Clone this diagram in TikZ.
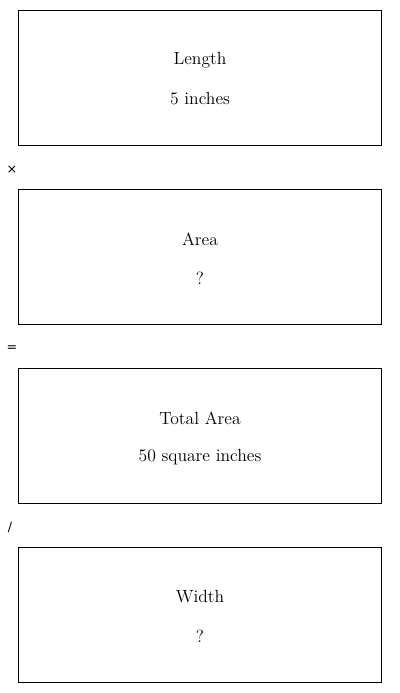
\documentclass[tikz,border=0pt]{standalone}
\usepackage{fontspec}
\newfontfamily\symfont{DejaVu Sans}
\begin{document}
\begin{tikzpicture}[x=0.75pt,y=-0.75pt,
  box/.style={draw, line width=0.75pt, minimum width=363*0.75pt, minimum height=135*0.75pt, inner sep=0pt, anchor=north west},
  lbl/.style={font=\fontsize{13.2}{15}\selectfont, anchor=center},
  op/.style={font=\symfont\fontsize{9.5}{12}\selectfont, anchor=center}]
\useasboundingbox (0,0) rectangle (400,693);
\node[box] (b1) at (18,10) {};
\node[box] (b2) at (18,189) {};
\node[box] (b3) at (18,368) {};
\node[box] (b4) at (18,547) {};
\node[lbl] (t1a) at (200,60) {Length};
\node[lbl] (t1b) at (200,99) {5 inches};
\node[lbl] (t2a) at (200,239) {Area};
\node[lbl] (t2b) at (200,278) {?};
\node[lbl] (t3a) at (200,418) {Total Area};
\node[lbl] (t3b) at (200,457) {50 square inches};
\node[lbl] (t4a) at (200,597) {Width};
\node[lbl] (t4b) at (200,636) {?};
\node[op] (o1) at (12,170) {×};
\node[op] (o2) at (12,349) {=};
\node[op] (o3) at (10,527) {/};
\end{tikzpicture}
\end{document}
